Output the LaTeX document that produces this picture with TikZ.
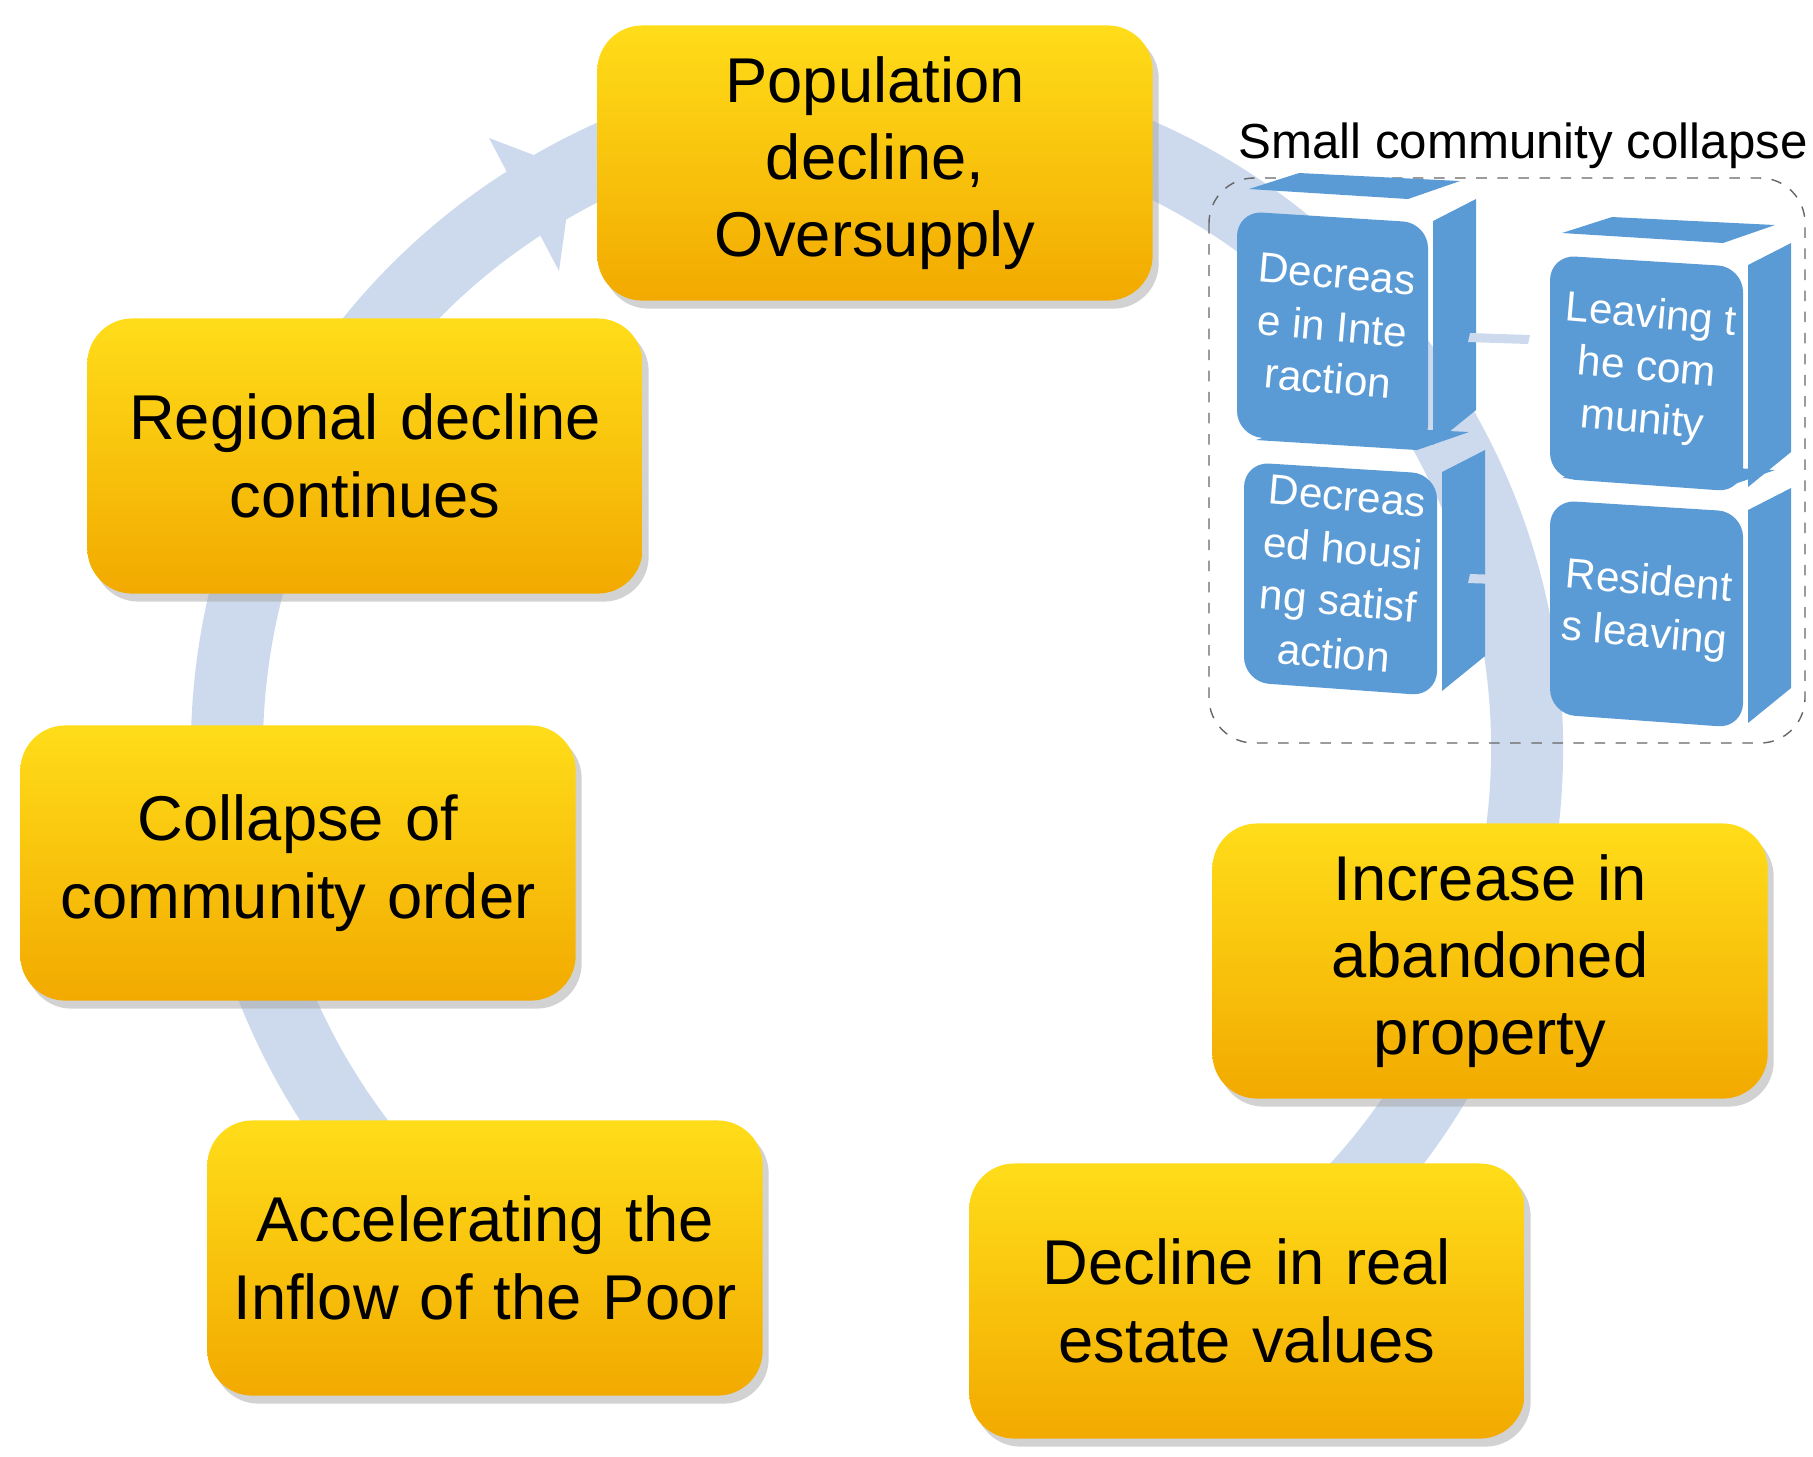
\documentclass[tikz,border=0pt]{standalone}
\usepackage{fontspec}
\setmainfont{Liberation Sans}
\usetikzlibrary{shadows}
\definecolor{ring}{HTML}{CDDAEE}
\definecolor{cubeF}{HTML}{5B9BD5}
\tikzset{
 ybox/.style={draw=none,rounded corners=0.45cm,top color=yellow!70!orange!90!white,bottom color=orange!60!yellow!95!black,
   drop shadow={shadow xshift=0.06cm,shadow yshift=-0.08cm,fill=black!35},
   minimum width=5.55cm,minimum height=2.75cm,text width=5.2cm,
   align=center,font=\fontsize{18}{22}\selectfont,text=black},
 ctext/.style={text=white,align=center,font=\fontsize{12}{15}\selectfont,rotate=-5},
}
\begin{document}
\begin{tikzpicture}[x=0.01cm,y=-0.01cm]
\useasboundingbox (0,0) rectangle (1813,1456);
% ring
\draw[ring,line width=0.72cm] (877,749) ++(60:650) arc[start angle=60,end angle=-236,radius=650];
\fill[ring] (573,170) -- (489,138) -- (559,271) -- cycle;
% boxes
\node[ybox] (pop) at (875,163) {Population decline,\\Oversupply};
\node[ybox] (reg) at (365,456) {Regional decline\\continues};
\node[ybox] (col) at (298,863) {Collapse of\\community order};
\node[ybox] (acc) at (485,1258) {Accelerating the\\Inflow of the Poor};
\node[ybox] (dec) at (1247,1301) {Decline in real\\estate values};
\node[ybox] (inc) at (1490,961) {Increase in\\abandoned property};
% dashed group
\draw[dashed,gray!80!black,rounded corners=0.45cm] (1209,178) rectangle (1805,743);
\node[font=\fontsize{14}{16}\selectfont] (title) at (1523,146) {Small community collapse};
% cubes
\newcommand\mycube[6]{%
 \fill[cubeF] (#1+12,#2-22) -- (#3-20,#2-12) -- (#3+32,#2-30) -- (#1+62,#2-38) -- cycle;
 \fill[cubeF] (#3+5,#2+10) -- (#3+48,#2-12) -- (#3+48,#4-40) -- (#3+5,#4-5) -- cycle;
 \fill[cubeF,rounded corners=0.25cm] (#1,#2) -- (#3,#2+12) -- (#3,#4) -- (#1,#4-14) -- cycle;
 \node[ctext] (#5) at ({(#1+#3)/2},{(#2+#4)/2-4}) {#6};}
\mycube{1237}{211}{1428}{450}{c1}{Decreas\\e in Inte\\raction}
\mycube{1550}{255}{1743}{492}{c2}{Leaving t\\he com\\munity}
\mycube{1244}{462}{1437}{696}{c3}{Decreas\\ed housi\\ng satisf\\action}
\mycube{1550}{500}{1743}{728}{c4}{Resident\\s leaving}
\fill[ring] (1470,333) -- (1530,335) -- (1528,344) -- (1468,342) -- cycle;
\fill[ring] (1470,574) -- (1530,576) -- (1528,585) -- (1468,583) -- cycle;
\end{tikzpicture}
\end{document}
